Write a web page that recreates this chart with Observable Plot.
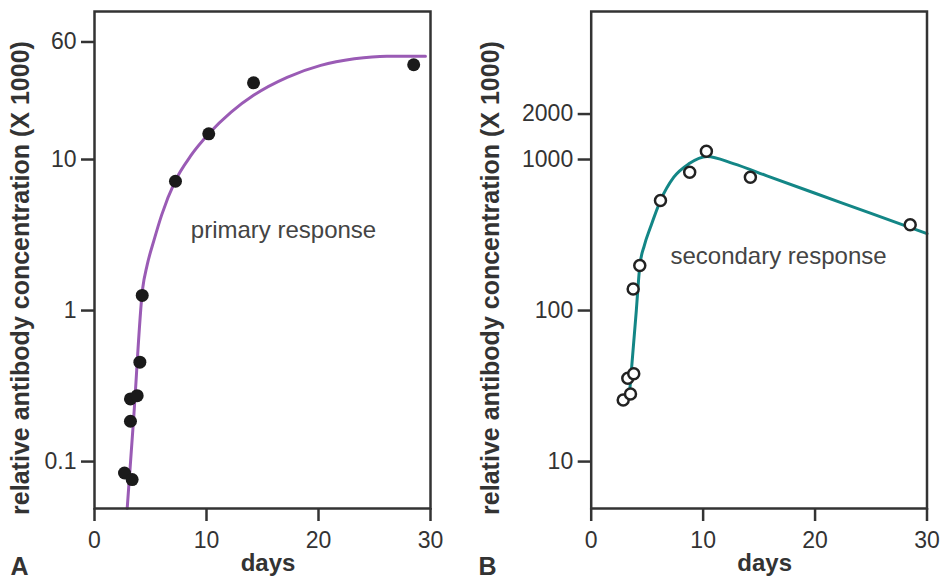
<!DOCTYPE html>
<html><head><meta charset="utf-8">
<script src="https://cdn.jsdelivr.net/npm/d3@7"></script>
<script src="https://cdn.jsdelivr.net/npm/@observablehq/plot@0.6"></script>
<style>
html,body{margin:0;padding:0;background:#fff;}
#wrap{position:relative;width:940px;height:588px;overflow:hidden;font-family:"Liberation Sans",Arial,sans-serif;}
#a,#b{position:absolute;top:0;}
#a{left:0;} #b{left:470px;}
</style></head><body><div id="wrap"><div id="a"></div><div id="b"></div></div>
<script>
// Panel A: primary response (measured points)
const primaryDays = [2.68, 3.36, 3.21, 3.21, 3.81, 4.05, 4.26, 7.23, 10.2, 14.2, 28.5];
const primaryConc = [0.084, 0.076, 0.185, 0.26, 0.273, 0.455, 1.26, 7.18, 14.8, 32.2, 42.4];
// Panel A: fitted curve
const primaryCurveDays = [2.92, 3.48, 4.3, 4.7, 5.3, 6.0, 7.2, 8.6, 10.2, 12.2, 14.2, 17.2, 20.2, 23.2, 26.1, 29.55];
const primaryCurveConc = [0.049, 0.186, 1.4, 2.0, 2.9, 4.3, 7.2, 10.6, 14.8, 20.6, 26.6, 35, 42, 46.4, 48.3, 48.3];
// Panel B: secondary response (measured points)
const secondaryDays = [2.86, 3.51, 3.27, 3.8, 3.75, 4.34, 6.19, 8.8, 10.29, 14.22, 28.5];
const secondaryConc = [25.6, 28, 35.6, 38.1, 139, 199, 535, 824, 1135, 764, 370];
// Panel B: fitted curve
const secondaryCurveDays = [3.4, 4.03, 4.34, 4.75, 5.3, 6.19, 7.38, 8.72, 10.35, 12.7, 15.7, 20, 25, 30];
const secondaryCurveConc = [27, 100, 197, 270, 357, 535, 764, 936, 1047, 940, 780, 598, 440, 323];
// Ticks
const xTicks = [0, 10, 20, 30];
const yTicksA = [0.1, 1, 10, 60];
const yTicksB = [10, 100, 1000, 2000];
// Texts
const yLabel = "relative antibody concentration (X 1000)";
const xLabel = "days";

const zip = (xs, ys) => xs.map((d, i) => ({day: d, conc: ys[i]}));
const pointsA = zip(primaryDays, primaryConc);
const curveA = zip(primaryCurveDays, primaryCurveConc);
const pointsB = zip(secondaryDays, secondaryConc);
const curveB = zip(secondaryCurveDays, secondaryCurveConc);

const style = {fontFamily: "Liberation Sans, Arial, sans-serif", color: "#333", background: "white", overflow: "visible"};
const txt = {text: d => d};

const plotA = Plot.plot({
  width: 470, height: 588,
  marginLeft: 94, marginRight: 40, marginTop: 11, marginBottom: 80,
  style,
  x: {domain: [0, 30], label: null},
  y: {type: "log", domain: [0.0489, 95.5], label: null},
  marks: [
    Plot.line(curveA, {x: "day", y: "conc", stroke: "#9a5bb5", strokeWidth: 3, curve: "monotone-x"}),
    Plot.dot(pointsA, {x: "day", y: "conc", r: 6.5, fill: "#1a1a1a", stroke: "none"}),
    Plot.frame({stroke: "#333", strokeWidth: 2.5}),
    Plot.axisX(xTicks, {tickSize: 13, tickPadding: 10, fontSize: 23, label: null, strokeWidth: 2.5, text: d => String(d)}),
    Plot.axisY(yTicksA, {tickSize: 13, tickPadding: 5, fontSize: 23, label: null, strokeWidth: 2.5, text: d => String(d)}),
    Plot.text(["primary response"], {...txt, x: 8.6, y: 3.42, textAnchor: "start", fontSize: 24, fill: "#444"}),
    Plot.text([xLabel], {...txt, frameAnchor: "bottom", textAnchor: "middle", dx: 5.5, dy: 62, fontSize: 24, fontWeight: "bold"}),
    Plot.text([yLabel], {...txt, frameAnchor: "left", textAnchor: "middle", rotate: -90, dx: -74, dy: 18, fontSize: 25, fontWeight: "bold"}),
    Plot.text(["A"], {...txt, frameAnchor: "bottom-left", textAnchor: "start", dx: -84, dy: 66, fontSize: 25, fontWeight: "bold"})
  ]
});

const plotB = Plot.plot({
  width: 470, height: 588,
  marginLeft: 120.7, marginRight: 13.5, marginTop: 11, marginBottom: 80,
  style,
  x: {domain: [0, 30], label: null},
  y: {type: "log", domain: [4.89, 9550], label: null},
  marks: [
    Plot.line(curveB, {x: "day", y: "conc", stroke: "#138686", strokeWidth: 3, curve: "monotone-x"}),
    Plot.dot(pointsB, {x: "day", y: "conc", r: 5.5, fill: "white", stroke: "#222", strokeWidth: 2.5}),
    Plot.frame({stroke: "#333", strokeWidth: 2.5}),
    Plot.axisX(xTicks, {tickSize: 13, tickPadding: 10, fontSize: 23, label: null, strokeWidth: 2.5, text: d => String(d)}),
    Plot.axisY(yTicksB, {tickSize: 13, tickPadding: 5, fontSize: 23, label: null, strokeWidth: 2.5, text: d => String(d)}),
    Plot.text(["secondary response"], {...txt, x: 7.08, y: 227, textAnchor: "start", fontSize: 24, fill: "#444"}),
    Plot.text([xLabel], {...txt, frameAnchor: "bottom", textAnchor: "middle", dx: 5.6, dy: 62, fontSize: 24, fontWeight: "bold"}),
    Plot.text([yLabel], {...txt, frameAnchor: "left", textAnchor: "middle", rotate: -90, dx: -100.7, dy: 18, fontSize: 25, fontWeight: "bold"}),
    Plot.text(["B"], {...txt, frameAnchor: "bottom-left", textAnchor: "start", dx: -112.7, dy: 66, fontSize: 25, fontWeight: "bold"})
  ]
});

document.getElementById("a").appendChild(plotA);
document.getElementById("b").appendChild(plotB);
</script></body></html>
